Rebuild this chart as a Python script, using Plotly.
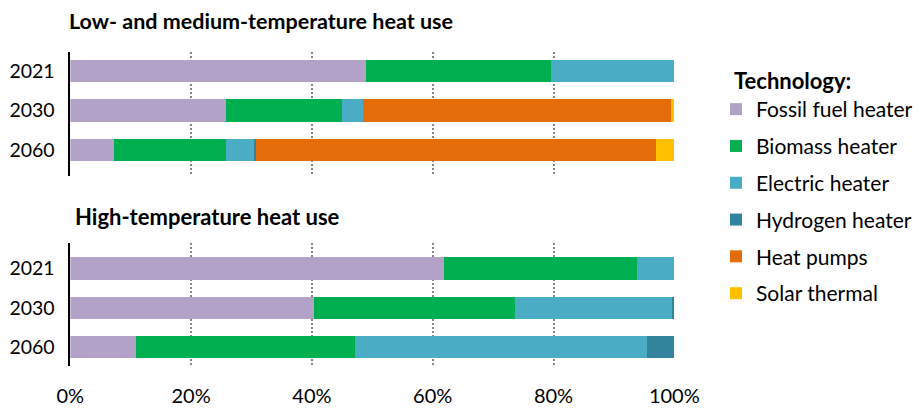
import plotly.graph_objects as go

years = ["2021", "2030", "2060"]
technologies = ["Fossil fuel heater", "Biomass heater", "Electric heater",
                "Hydrogen heater", "Heat pumps", "Solar thermal"]
colors = ["#B3A2C7", "#00B050", "#4BACC6", "#31849B", "#E46C0A", "#FFC000"]

# Low- and medium-temperature heat use (% share per year: 2021, 2030, 2060)
low_fossil = [49.0, 25.8, 7.3]
low_biomass = [30.6, 19.1, 18.4]
low_electric = [20.4, 3.6, 4.8]
low_hydrogen = [0.0, 0.0, 0.3]
low_heatpumps = [0.0, 50.9, 66.2]
low_solar = [0.0, 0.6, 3.0]

# High-temperature heat use
high_fossil = [61.8, 40.4, 10.8]
high_biomass = [32.0, 33.2, 36.4]
high_electric = [6.2, 26.1, 48.3]
high_hydrogen = [0.0, 0.3, 4.5]
high_heatpumps = [0.0, 0.0, 0.0]
high_solar = [0.0, 0.0, 0.0]

x_ticks = [0, 20, 40, 60, 80, 100]
x_tick_labels = ["0%", "20%", "40%", "60%", "80%", "100%"]

low_series = [low_fossil, low_biomass, low_electric, low_hydrogen, low_heatpumps, low_solar]
high_series = [high_fossil, high_biomass, high_electric, high_hydrogen, high_heatpumps, high_solar]

FONT = "Lato"
W, H = 921, 408
OFF = 8  # page body margin


def px(x):
    return (x - OFF) / W


def py(y):
    return 1 - (y - OFF) / H


fig = go.Figure()
for i, (name, col) in enumerate(zip(technologies, colors)):
    fig.add_trace(go.Bar(y=years, x=low_series[i], orientation="h", name=name,
                         marker=dict(color=col, line=dict(width=0)),
                         xaxis="x", yaxis="y", legendgroup=name, showlegend=True,
                         hoverinfo="name+x"))
for i, (name, col) in enumerate(zip(technologies, colors)):
    fig.add_trace(go.Bar(y=years, x=high_series[i], orientation="h", name=name,
                         marker=dict(color=col, line=dict(width=0)),
                         xaxis="x2", yaxis="y2", legendgroup=name, showlegend=False,
                         hoverinfo="name+x"))

xdom = [px(70.3), px(674.3)]
top_dom = [py(176), py(51.7)]
bot_dom = [py(365.7), py(243.3)]

xcommon = dict(range=[0, 100], domain=xdom, tickvals=x_ticks, ticktext=x_tick_labels,
               showgrid=True, gridcolor="#858585", griddash="2px,2px", gridwidth=2,
               zeroline=False, showline=False, ticks="", automargin=False,
               tickfont=dict(family=FONT, size=20, color="#000"))
ycommon = dict(type="category", categoryorder="array", categoryarray=years,
               showline=True, linecolor="#000", linewidth=1.5, ticks="",
               showgrid=False, zeroline=False, automargin=False, ticklabelstandoff=10,
               tickfont=dict(family=FONT, size=19.5, color="#000"))

fig.update_layout(
    width=W, height=H,
    margin=dict(l=0, r=0, t=0, b=0),
    paper_bgcolor="white", plot_bgcolor="white",
    barmode="stack", bargap=0.44,
    font=dict(family=FONT, color="#000"),
    xaxis=dict(**xcommon, anchor="y", showticklabels=False),
    yaxis=dict(**ycommon, domain=top_dom, anchor="x", range=[2.66, -0.49]),
    xaxis2=dict(**xcommon, anchor="y2", showticklabels=True, ticklabelstandoff=16),
    yaxis2=dict(**ycommon, domain=bot_dom, anchor="x2", range=[2.47, -0.64]),
    legend=dict(x=px(716), y=py(89), xanchor="left", yanchor="top",
                font=dict(family=FONT, size=21, color="#000"),
                traceorder="grouped", tracegroupgap=6.5, itemwidth=30,
                bgcolor="rgba(0,0,0,0)"),
    annotations=[
        dict(text="<b>Low- and medium-temperature heat use</b>", x=px(67), y=1 + 2 / H,
             xref="paper", yref="paper", xanchor="left", yanchor="top", showarrow=False,
             font=dict(family=FONT, size=21.5, color="#000")),
        dict(text="<b>High-temperature heat use</b>", x=px(73), y=py(217),
             xref="paper", yref="paper", xanchor="left", yanchor="middle", showarrow=False,
             font=dict(family=FONT, size=22, color="#000")),
        dict(text="<b>Technology:</b>", x=px(732), y=py(80),
             xref="paper", yref="paper", xanchor="left", yanchor="middle", showarrow=False,
             font=dict(family=FONT, size=22, color="#000")),
    ],
)

fig.write_html("out.html")
